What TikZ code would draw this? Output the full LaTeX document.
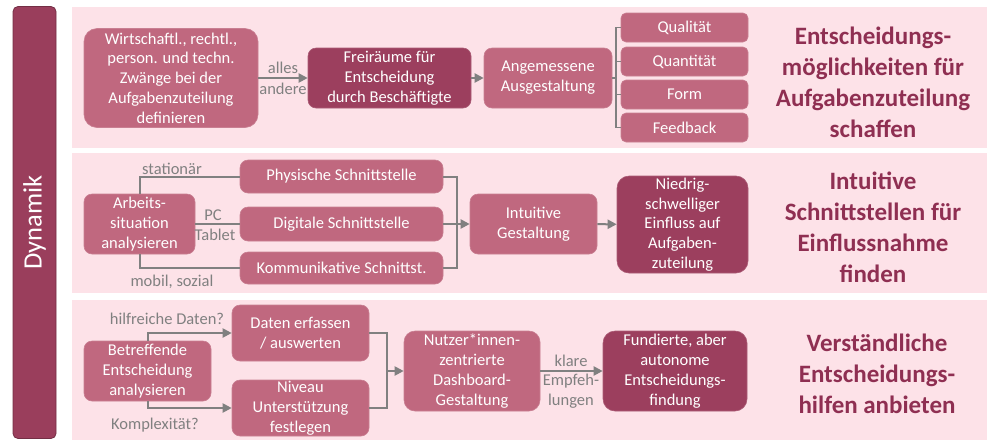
\documentclass[tikz,border=0pt]{standalone}
\usepackage{fontspec}
\setmainfont{Carlito}
\usetikzlibrary{arrows.meta,positioning}
\definecolor{bandpink}{HTML}{FDE2E8}
\definecolor{boxmid}{HTML}{C0687F}
\definecolor{boxdark}{HTML}{9C3F5E}
\definecolor{bardark}{HTML}{9A3E5C}
\definecolor{headred}{HTML}{8F2F52}
\definecolor{linegray}{HTML}{808080}
\newcommand{\boxfont}{\fontsize{16.5}{19.8}\selectfont}
\newcommand{\headfont}{\fontsize{25}{31}\selectfont\bfseries}
\tikzset{box/.style={rounded corners=8pt,fill=boxmid,draw=boxmid!85!white,line width=0.6pt,text=white,align=center,inner sep=0pt,font=\boxfont}}
\tikzset{darkbox/.style={box,fill=boxdark,draw=boxdark!85!white}}
\tikzset{lbl/.style={text=linegray,inner sep=0pt,font=\boxfont}}
\tikzset{head/.style={text=headred,align=center,inner sep=0pt,font=\headfont}}
\tikzset{link/.style={draw=linegray,line width=2pt}}
\tikzset{arrow/.style={link,-{Triangle[length=9pt,width=9pt]}}}

\begin{document}
\begin{tikzpicture}[x=1pt,y=-1pt]
    \useasboundingbox (0,0) rectangle (987,440);
    % bands
    \fill [bandpink] (72,7) rectangle (987,148);
    \fill [bandpink] (72,153) rectangle (987,293);
    \fill [bandpink] (72,300) rectangle (987,440);
    \node [rounded corners=5pt,fill=bardark,draw=bardark!75!black,line width=0.8pt,text=white,
        font=\fontsize{26.5}{30}\selectfont,rotate=90,minimum width=432pt,minimum height=43pt] (dyn) at (34.5,222.5) {Dynamik};

    % band 1
    \node [box,rounded corners=13pt,minimum width=174pt,minimum height=99pt] (w1) at (171,78)
        {Wirtschaftl., rechtl.,\\person. und techn.\\Zwänge bei der\\Aufgabenzuteilung\\definieren};
    \node [darkbox,minimum width=163pt,minimum height=60pt] (f1) at (389.5,78) {Freiräume für\\Entscheidung\\durch Beschäftigte};
    \node [box,minimum width=128pt,minimum height=60pt] (a1) at (548,78) {Angemessene\\Ausgestaltung};
    \node [box,rounded corners=5pt,minimum width=127pt,minimum height=29pt] (q1) at (684.5,27.5) {Qualität};
    \node [box,rounded corners=5pt,minimum width=127pt,minimum height=29pt] (q2) at (684.5,61.5) {Quantität};
    \node [box,rounded corners=5pt,minimum width=127pt,minimum height=29pt] (q3) at (684.5,94.5) {Form};
    \node [box,rounded corners=5pt,minimum width=127pt,minimum height=29pt] (q4) at (684.5,127.5) {Feedback};
    \node [head] (t1) at (873,82) {Entscheidungs-\\möglichkeiten für\\Aufgabenzuteilung\\schaffen};
    \draw [arrow] (w1) -- (f1);
    \node [lbl] (l1a) at (283,68) {alles};
    \node [lbl] (l1b) at (283,89) {andere};
    \draw [arrow] (f1) -- (a1);
    \coordinate (br) at (616,78);
    \draw [link,line width=1.2pt] (a1.east) -- (br);
    \foreach \q in {q1,q2,q3,q4}
        \draw [link,line width=1.2pt] (br) |- (\q.west);

    % band 2
    \node [box,minimum width=111pt,minimum height=60pt] (s2) at (139.5,224) {Arbeits-\\situation\\analysieren};
    \node [box,minimum width=203pt,minimum height=33pt] (p2) at (341.5,176.5) {Physische Schnittstelle};
    \node [box,minimum width=203pt,minimum height=34pt] (d2) at (341.5,224) {Digitale Schnittstelle};
    \node [box,minimum width=203pt,minimum height=32pt] (k2) at (341.5,268) {Kommunikative Schnittst.};
    \node [box,minimum width=127pt,minimum height=60pt] (i2) at (533.5,224) {Intuitive\\Gestaltung};
    \node [darkbox,rounded corners=12pt,minimum width=131pt,minimum height=97pt] (n2) at (682.5,224.5)
        {Niedrig-\\schwelliger\\Einfluss auf\\Aufgaben-\\zuteilung};
    \node [head] (t2) at (873,227) {Intuitive\\Schnittstellen für\\Einflussnahme\\finden};
    \draw [link] (s2.north) |- (p2.west);
    \draw [link] (s2.east) -- (d2.west);
    \draw [link] (s2.south) |- (k2.west);
    \node [lbl] (l2a) at (172,169) {stationär};
    \node [lbl] (l2b) at (213,215) {PC};
    \node [lbl] (l2c) at (215,235) {Tablet};
    \node [lbl] (l2d) at (172,282) {mobil, sozial};
    \coordinate (m2) at (457,224);
    \draw [link] (p2.east) -| (m2) |- (k2.east);
    \draw [arrow] (d2.east) -- (i2.west);
    \draw [arrow] (i2) -- (n2);

    % band 3
    \node [box,minimum width=127pt,minimum height=60pt] (b3) at (147.5,371) {Betreffende\\Entscheidung\\analysieren};
    \node [box,minimum width=137pt,minimum height=56pt] (e3) at (300.5,333) {Daten erfassen\\/ auswerten};
    \node [box,minimum width=137pt,minimum height=56pt] (v3) at (300.5,408) {Niveau\\Unterstützung\\festlegen};
    \node [box,rounded corners=11pt,minimum width=136pt,minimum height=80pt] (u3) at (472,371)
        {Nutzer*innen-\\zentrierte\\Dashboard-\\Gestaltung};
    \node [darkbox,rounded corners=12pt,minimum width=144pt,minimum height=80pt] (z3) at (675,371)
        {Fundierte, aber\\autonome\\Entscheidungs-\\findung};
    \node [head] (t3) at (877,374) {Verständliche\\Entscheidungs-\\hilfen anbieten};
    \draw [arrow] (b3.north) |- (e3.west);
    \draw [arrow] (b3.south) |- (v3.west);
    \node [lbl] (l3a) at (167,319) {hilfreiche Daten?};
    \node [lbl] (l3b) at (155,425) {Komplexität?};
    \coordinate (m3) at (387,371);
    \draw [link] (e3.east) -| (m3) |- (v3.east);
    \draw [arrow] (m3) -- (u3.west);
    \draw [arrow] (u3) -- (z3);
    \node [lbl] (l3c) at (571,361) {klare};
    \node [lbl] (l3d) at (571,381) {Empfeh-};
    \node [lbl] (l3e) at (571,401) {lungen};
\end{tikzpicture}
\end{document}
